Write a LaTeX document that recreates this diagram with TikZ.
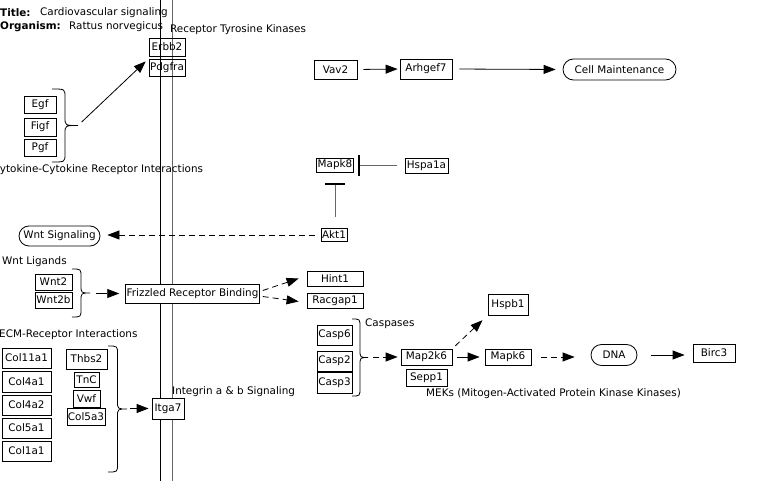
\documentclass[tikz,border=0pt]{standalone}
\usepackage{fontspec}
\setmainfont{DejaVu Sans}
\usetikzlibrary{arrows.meta,shapes.misc,calc}
\newcommand\mybrace[4]{% x0, ytop, ybottom, amplitude
  \draw[brc] (#1,#2) .. controls ({#1+0.5*#4},#2) .. ({#1+0.5*#4},{#2+8})
    -- ({#1+0.5*#4},{(#2+#3)/2-8}) .. controls ({#1+0.5*#4},{(#2+#3)/2}) .. ({#1+#4},{(#2+#3)/2})
    .. controls ({#1+0.5*#4},{(#2+#3)/2}) .. ({#1+0.5*#4},{(#2+#3)/2+8})
    -- ({#1+0.5*#4},{#3-8}) .. controls ({#1+0.5*#4},#3) .. (#1,#3);}
\begin{document}
\begin{tikzpicture}[x=1pt,y=-1pt, font=\fontsize{10.4}{12}\selectfont,
 gene/.style={draw, line width=0.8pt, inner sep=1pt, align=center},
 term/.style={draw, rounded rectangle, line width=0.8pt, inner sep=1pt},
 lbl/.style={anchor=west, inner sep=0pt, yshift=-1.5pt},
 arr/.style={line width=0.8pt, -{Triangle[length=12pt,width=9pt]}},
 darr/.style={arr, dash pattern=on 6pt off 4pt},
 inh/.style={line width=0.8pt, black!60, -{Bar[width=20pt,line width=2pt,color=black]}},
 brc/.style={line width=0.8pt}]
\useasboundingbox (0,0) rectangle (779,500);

% membrane
\draw[line width=1pt] (160.5,0) -- (160.5,481);
\draw[line width=1pt, black!60] (172,0) -- (172,481);

% title
\node[lbl] (tl1) at (0,11) {\textbf{Title:}};
\node[lbl] (tl2) at (40,11) {Cardiovascular signaling};
\node[lbl] (tl3) at (0,25) {\textbf{Organism:}};
\node[lbl] (tl4) at (69,25) {Rattus norvegicus};

% labels
\node[lbl] (lrtk) at (170,28) {Receptor Tyrosine Kinases};
\node[lbl] (lcyt) at (-7.5,168) {Cytokine-Cytokine Receptor Interactions};
\node[lbl] (lwnt) at (2,260) {Wnt Ligands};
\node[lbl] (lecm) at (-1,333) {ECM-Receptor Interactions};
\node[lbl] (lint) at (172,390) {Integrin a \& b Signaling};
\node[lbl] (lcas) at (365,322) {Caspases};
\node[lbl] (lmek) at (426,392) {MEKs (Mitogen-Activated Protein Kinase Kinases)};

% receptor tyrosine kinases
\node[gene, minimum width=36, minimum height=18] (erbb2) at (167,47) {Erbb2};
\node[gene, minimum width=36, minimum height=17] (pdgfra) at (167,67.5) {Pdgfra};
\node[gene, minimum width=32, minimum height=17] (egf) at (40,104.5) {Egf};
\node[gene, minimum width=32, minimum height=18] (figf) at (40,127) {Figf};
\node[gene, minimum width=32, minimum height=17] (pgf) at (40,147.5) {Pgf};
\mybrace{52}{89}{162}{26}
\coordinate (bcyt) at (78,125.5);
\draw[arr, shorten <=5pt, shorten >=4pt] (bcyt) -- (pdgfra.north west);

% Vav2 chain
\node[gene, minimum width=43, minimum height=19] (vav2) at (335.5,69.5) {Vav2};
\node[gene, minimum width=52, minimum height=20] (arhgef7) at (426,69) {Arhgef7};
\node[term, minimum width=115, minimum height=21] (cellm) at (619.5,69.5) {Cell Maintenance};
\draw[arr, shorten <=6pt, shorten >=2pt] (vav2.east) -- (arhgef7.west);
\draw[arr, shorten <=7pt, shorten >=7pt] (arhgef7.east) -- (cellm.west);

% Mapk8 / Akt1
\node[gene, minimum width=36, minimum height=14] (mapk8) at (335,165) {Mapk8};
\node[gene, minimum width=43, minimum height=15] (hspa1a) at (426.5,165.5) {Hspa1a};
\node[gene, minimum width=26, minimum height=13] (akt1) at (334,235) {Akt1};
\draw[inh, shorten <=8pt, shorten >=4pt] (hspa1a.west) -- (hspa1a.west -| mapk8.east);
\draw[inh, shorten <=11pt, shorten >=11pt] (akt1.north -| mapk8.south) -- (mapk8.south);
\node[term, minimum width=83, minimum height=20] (wnts) at (59.5,236) {Wnt Signaling};
\draw[darr, shorten <=6pt, shorten >=7pt] (akt1.west) -- (akt1.west -| wnts.east);

% Wnt ligands
\node[gene, minimum width=37, minimum height=16] (wnt2) at (53.5,282) {Wnt2};
\node[gene, minimum width=37, minimum height=16] (wnt2b) at (53.5,300) {Wnt2b};
\mybrace{72}{269}{317}{18}
\coordinate (bwnt) at (90,293.5);
\node[gene, fill=white, minimum width=133, minimum height=19] (friz) at (192.5,293.5) {Frizzled Receptor Binding};
\draw[arr, shorten <=6pt, shorten >=6pt] (bwnt) -- (friz.west);
\node[gene, minimum width=56, minimum height=15] (hint1) at (335,278.5) {Hint1};
\node[gene, minimum width=56, minimum height=15] (racgap1) at (335,300.5) {Racgap1};
\draw[darr] ([xshift=3pt,yshift=3pt]friz.east) -- ([xshift=-8pt]hint1.west);
\draw[darr] ([xshift=3pt,yshift=-3pt]friz.east) -- ([xshift=-8pt,yshift=-1pt]racgap1.west);

% Caspases and MEKs
\node[gene, minimum width=35, minimum height=20] (casp6) at (334.5,335) {Casp6};
\node[gene, minimum width=35, minimum height=20] (casp2) at (334.5,361) {Casp2};
\node[gene, minimum width=35, minimum height=21] (casp3) at (334.5,382.5) {Casp3};
\mybrace{352}{319}{396}{16}
\coordinate (bcas) at (368,357);
\node[gene, minimum width=51, minimum height=16] (map2k6) at (426.5,357) {Map2k6};
\node[gene, minimum width=41, minimum height=17] (sepp1) at (426.5,377.5) {Sepp1};
\draw[darr, shorten <=5pt, shorten >=3pt] (bcas) -- (map2k6.west);
\node[gene, minimum width=40, minimum height=21] (hspb1) at (508,304.5) {Hspb1};
\node[gene, minimum width=46, minimum height=16] (mapk6) at (508,357) {Mapk6};
\node[term, minimum width=48, minimum height=21] (dna) at (614,355) {DNA};
\node[gene, minimum width=42, minimum height=18] (birc3) at (714,353) {Birc3};
\draw[darr, shorten <=4pt, shorten >=7pt] (map2k6.north east) -- (hspb1.south west);
\draw[arr, shorten <=5pt, shorten >=5pt] (map2k6.east) -- (mapk6.west);
\draw[darr, shorten <=10pt, shorten >=16pt] (mapk6.east) -- (mapk6.east -| dna.west);
\draw[arr, shorten <=14pt, shorten >=8pt] (dna.east) -- (dna.east -| birc3.west);

% ECM
\node[gene, minimum width=49, minimum height=20] (col11a1) at (26.5,358) {Col11a1};
\node[gene, minimum width=49, minimum height=21] (col4a1) at (26.5,381.5) {Col4a1};
\node[gene, minimum width=49, minimum height=20] (col4a2) at (26.5,405) {Col4a2};
\node[gene, minimum width=49, minimum height=20] (col5a1) at (26.5,428) {Col5a1};
\node[gene, minimum width=49, minimum height=20] (col1a1) at (26.5,451) {Col1a1};
\node[gene, minimum width=41, minimum height=20] (thbs2) at (86.5,359) {Thbs2};
\node[gene, minimum width=25, minimum height=15] (tnc) at (86.5,379.5) {TnC};
\node[gene, minimum width=27, minimum height=17] (vwf) at (86.5,398.5) {Vwf};
\node[gene, minimum width=38, minimum height=17] (col5a3) at (86,416.5) {Col5a3};
\mybrace{108}{346}{472}{19}
\coordinate (becm) at (127,408.5);
\node[gene, fill=white, minimum width=32, minimum height=21] (itga7) at (168,408.5) {Itga7};
\draw[arr, shorten <=3pt, shorten >=3pt] (becm) -- (itga7.west);
\end{tikzpicture}
\end{document}
